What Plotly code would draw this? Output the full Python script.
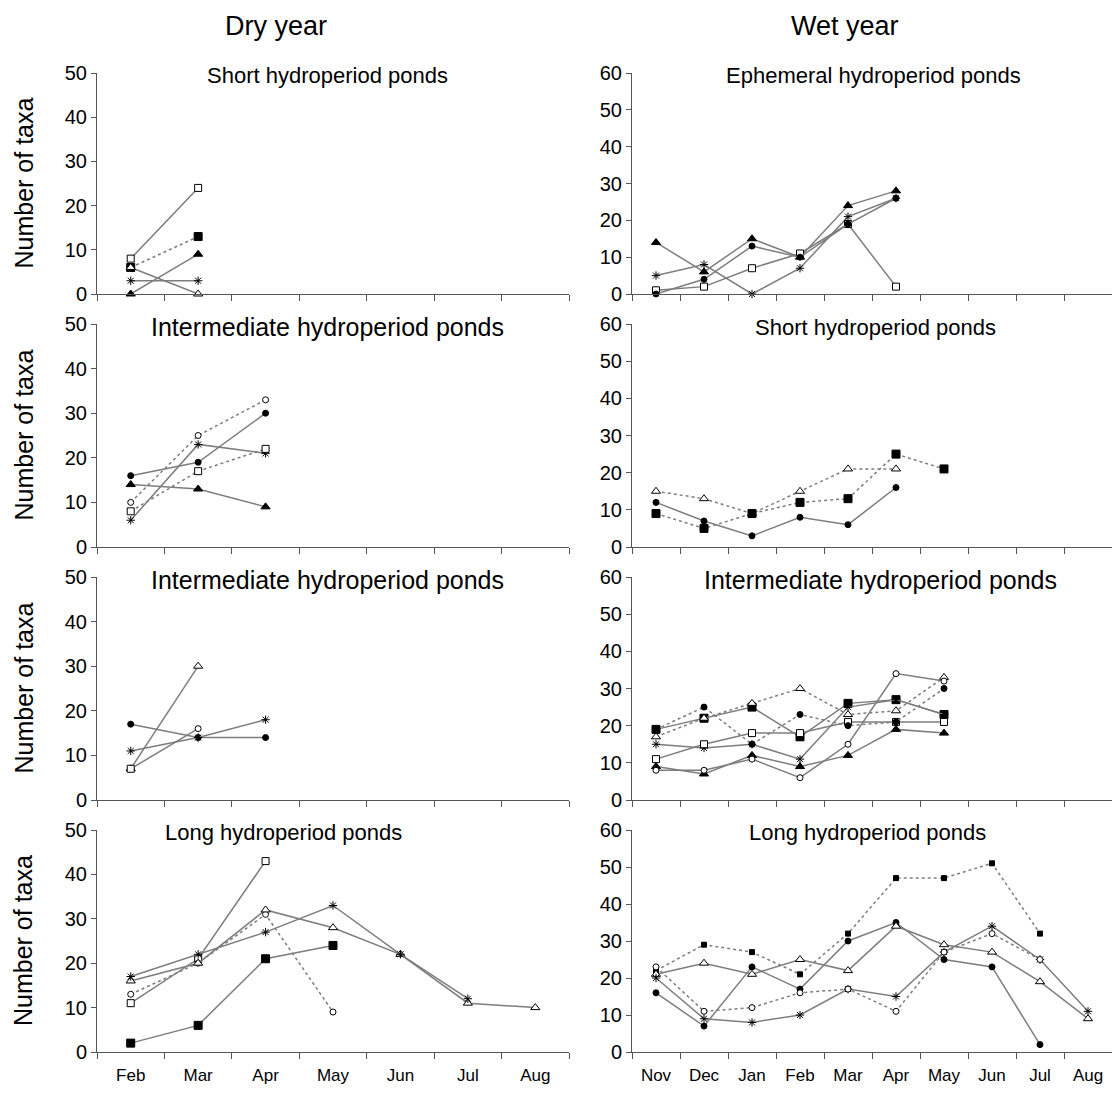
import plotly.graph_objects as go

W, H = 1113, 1095

months_dry = ["Feb", "Mar", "Apr", "May", "Jun", "Jul", "Aug"]
months_wet = ["Nov", "Dec", "Jan", "Feb", "Mar", "Apr", "May", "Jun", "Jul", "Aug"]

# ---- data: (marker key, dash, values) ----
dry_short = [
    ("sq_open", "solid", [8, 24]),
    ("sq_filled", "dot", [6, 13]),
    ("tri_filled", "solid", [0, 9]),
    ("tri_open", "solid", [6, 0]),
    ("star", "solid", [3, 3]),
]
dry_inter1 = [
    ("circ_open", "dot", [10, 25, 33]),
    ("circ_filled", "solid", [16, 19, 30]),
    ("star", "solid", [6, 23, 21]),
    ("sq_open", "dot", [8, 17, 22]),
    ("tri_filled", "solid", [14, 13, 9]),
]
dry_inter2 = [
    ("tri_open", "solid", [7, 30]),
    ("circ_open", "solid", [7, 16]),
    ("sq_open", "solid", [7]),
    ("circ_filled", "solid", [17, 14, 14]),
    ("star", "solid", [11, 14, 18]),
]
dry_long = [
    ("sq_open", "solid", [11, 21, 43]),
    ("sq_filled", "solid", [2, 6, 21, 24]),
    ("circ_open", "dot", [13, 20, 31, 9]),
    ("tri_open", "solid", [16, 20, 32, 28, 22, 11, 10]),
    ("star", "solid", [17, 22, 27, 33, 22, 12]),
]
wet_ephemeral = [
    ("tri_filled", "solid", [14, 6, 15, 10, 24, 28]),
    ("star", "solid", [5, 8, 0, 7, 21, 26]),
    ("sq_open", "solid", [1, 2, 7, 11, 19, 2]),
    ("circ_filled", "solid", [0, 4, 13, 10, 19, 26]),
]
wet_short = [
    ("tri_open", "dot", [15, 13, 9, 15, 21, 21]),
    ("sq_filled", "dot", [9, 5, 9, 12, 13, 25, 21]),
    ("circ_filled", "solid", [12, 7, 3, 8, 6, 16]),
]
wet_inter = [
    ("sq_filled", "solid", [19, 22, 25, 17, 26, 27, 23]),
    ("star", "solid", [15, 14, 15, 11, 25, 27, 23]),
    ("sq_open", "solid", [11, 15, 18, 18, 21, 21, 21]),
    ("circ_filled", "dot", [19, 25, 15, 23, 20, 21, 30]),
    ("tri_open", "dot", [17, 22, 26, 30, 23, 24, 33]),
    ("tri_filled", "solid", [9, 7, 12, 9, 12, 19, 18]),
    ("circ_open", "solid", [8, 8, 11, 6, 15, 34, 32]),
]
wet_long = [
    ("sq_small", "dot", [22, 29, 27, 21, 32, 47, 47, 51, 32]),
    ("circ_filled", "solid", [16, 7, 23, 17, 30, 35, 25, 23, 2]),
    ("tri_open", "solid", [21, 24, 21, 25, 22, 34, 29, 27, 19, 9]),
    ("star", "solid", [20, 9, 8, 10, 17, 15, 27, 34, 25, 11]),
    ("circ_open", "dot", [23, 11, 12, 16, 17, 11, 27, 32, 25]),
]

col_titles = ["Dry year", "Wet year"]
panel_titles_dry = ["Short hydroperiod ponds", "Intermediate hydroperiod ponds",
                    "Intermediate hydroperiod ponds", "Long hydroperiod ponds"]
panel_titles_wet = ["Ephemeral hydroperiod ponds", "Short hydroperiod ponds",
                    "Intermediate hydroperiod ponds", "Long hydroperiod ponds"]
y_title = "Number of taxa"

# ---- styles ----
MARK = {
    "sq_open": dict(symbol="square", color="white", size=7),
    "sq_filled": dict(symbol="square", color="black", size=8),
    "sq_small": dict(symbol="square", color="black", size=5),
    "tri_open": dict(symbol="triangle-up", color="white", size=8),
    "tri_filled": dict(symbol="triangle-up", color="black", size=8),
    "circ_open": dict(symbol="circle", color="white", size=6),
    "circ_filled": dict(symbol="circle", color="black", size=6),
    "star": dict(symbol="asterisk-open", color="black", size=7),
}
LINE_COLOR = "#7d7d7d"
AXIS_COLOR = "#555555"
FONT = "Liberation Sans, Arial, sans-serif"

def px(x):
    return x / W

def py(y):
    return 1 - y / H

x_dom = [[px(97), px(569)], [px(632), px(1112)]]
rows_px = [(73, 294), (324, 547), (577, 800), (830, 1052)]

fig = go.Figure()

panels = [
    [dry_short, wet_ephemeral],
    [dry_inter1, wet_short],
    [dry_inter2, wet_inter],
    [dry_long, wet_long],
]

for r in range(4):
    for c in range(2):
        idx = r * 2 + c + 1
        xa = "x" if idx == 1 else f"x{idx}"
        ya = "y" if idx == 1 else f"y{idx}"
        cats = months_dry if c == 0 else months_wet
        for key, dash, vals in panels[r][c]:
            m = MARK[key]
            marker = dict(symbol=m["symbol"], size=m["size"], color=m["color"],
                          line=dict(color="black", width=1))
            fig.add_trace(go.Scatter(
                x=cats[:len(vals)], y=vals, mode="lines+markers",
                line=dict(color=LINE_COLOR, width=1.5, dash=dash),
                marker=marker, xaxis=xa, yaxis=ya, showlegend=False,
                cliponaxis=False))
        top, bot = rows_px[r]
        ymax = 50 if c == 0 else 60
        layout_x = dict(
            domain=x_dom[c], anchor=ya, type="category",
            categoryorder="array", categoryarray=cats,
            range=[-0.5, len(cats) - 0.5],
            showline=True, linecolor=AXIS_COLOR, linewidth=1,
            ticks="outside", ticklen=6, tickcolor=AXIS_COLOR, tickson="boundaries",
            showgrid=False, zeroline=False, automargin=False,
            showticklabels=(r == 3), ticklabelstandoff=8,
            tickfont=dict(family=FONT, size=17, color="black"),
        )
        layout_y = dict(
            domain=[py(bot), py(top)], anchor=xa,
            range=[0, ymax], dtick=10,
            showline=True, linecolor=AXIS_COLOR, linewidth=1,
            ticks="outside", ticklen=5, tickcolor=AXIS_COLOR,
            showgrid=False, zeroline=False, automargin=False,
            tickfont=dict(family=FONT, size=20, color="black"),
        )
        fig.layout["xaxis" if idx == 1 else f"xaxis{idx}"] = layout_x
        fig.layout["yaxis" if idx == 1 else f"yaxis{idx}"] = layout_y

def text_ann(text, x, y, size, angle=0):
    return dict(text=text, x=px(x), y=py(y), xref="paper", yref="paper",
                xanchor="center", yanchor="middle", showarrow=False,
                textangle=angle, font=dict(family=FONT, size=size, color="black"))

ann = [text_ann(col_titles[0], 276, 26, 27), text_ann(col_titles[1], 845, 26, 27)]

title_x_dry = [327, 328, 328, 283]
title_x_wet = [873, 875, 880, 867]
for r in range(4):
    top, bot = rows_px[r]
    sd = 25 if "Intermediate" in panel_titles_dry[r] else 22
    sw = 25 if "Intermediate" in panel_titles_wet[r] else 22
    ann.append(text_ann(panel_titles_dry[r], title_x_dry[r], top + 3, sd))
    ann.append(text_ann(panel_titles_wet[r], title_x_wet[r], top + 3, sw))
    ann.append(text_ann(y_title, 23, (top + bot) / 2, 25, -90))

fig.update_layout(
    width=W, height=H,
    margin=dict(l=0, r=0, t=0, b=0, pad=0, autoexpand=False),
    paper_bgcolor="white", plot_bgcolor="white",
    annotations=ann,
)

fig.write_html("out.html")
